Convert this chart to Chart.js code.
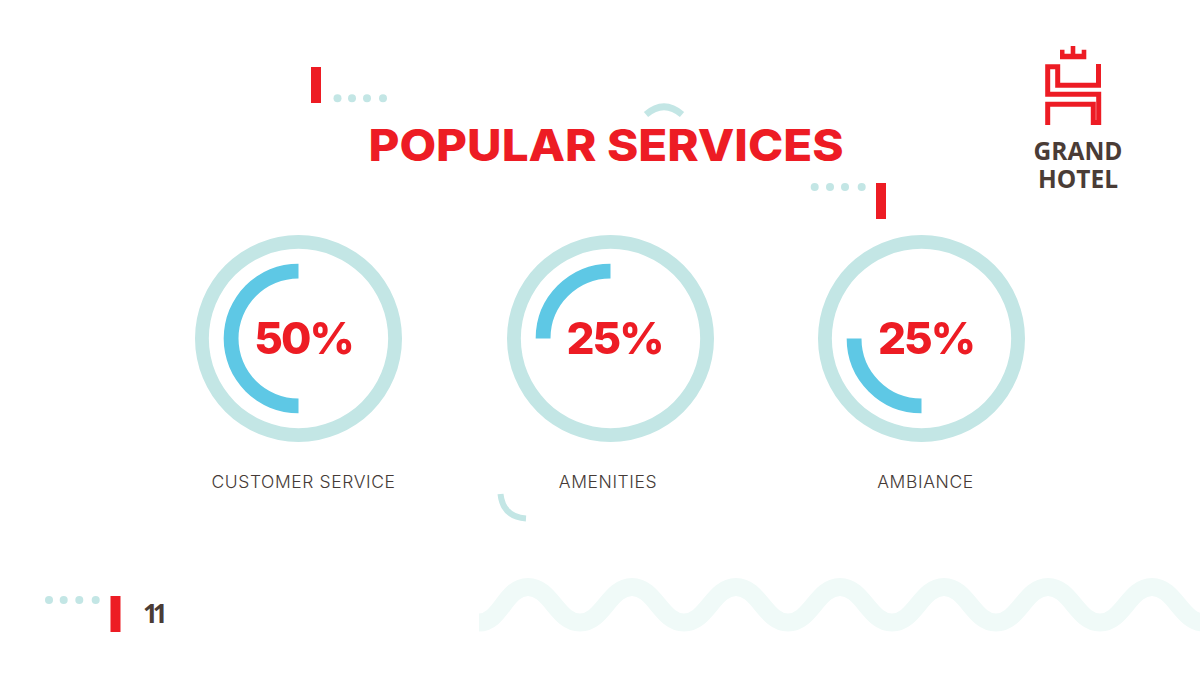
<!DOCTYPE html>
<html>
<head>
<meta charset="utf-8">
<title>Popular Services</title>
<script src="https://cdn.jsdelivr.net/npm/chart.js@4"></script>
<style>
    html, body { margin: 0; padding: 0; background: #fff; }
    #slide { position: relative; width: 1200px; height: 675px; overflow: hidden; background: #fff; font-family: Inter, sans-serif; }
    #decor { position: absolute; left: 0; top: 0; }
    .abs { position: absolute; white-space: nowrap; }
    .ring { position: absolute; width: 207px; height: 207px; }
    #title { left: 306px; width: 600px; top: 116px; line-height: 58px; text-align: center; font-size: 44px; font-weight: 800; color: #ed1c24; transform: scaleX(1.08); }
    .percent { width: 160px; text-align: center; font-size: 44px; line-height: 50px; font-weight: 800; letter-spacing: -2px; color: #ed1c24; }
    .name { width: 260px; text-align: center; font-size: 17.5px; line-height: 22px; font-weight: 300; letter-spacing: 0.6px; color: #453a36; }
    #logoText { left: 1008px; top: 137px; width: 140px; text-align: center; font-family: "Open Sans", sans-serif; font-weight: 700; font-size: 24.5px; line-height: 28px; color: #4a3c36; white-space: normal; }
    #page { left: 143px; top: 596px; font-family: "Open Sans", sans-serif; font-weight: 700; font-size: 26px; line-height: 34px; letter-spacing: -5px; color: #4a3c36; }
</style>
</head>
<body>
<div id="slide">
    <svg id="decor" width="1200" height="675">
        <!-- wave at the bottom -->
        <path d="M479 622.5 C501 622.5 505 587 528 587 S557 622.5 580 622.5 S609 587 632 587 S661 622.5 684 622.5 S713 587 736 587 S765 622.5 788 622.5 S817 587 840 587 S869 622.5 892 622.5 S921 587 944 587 S973 622.5 996 622.5 S1025 587 1048 587 S1077 622.5 1100 622.5 S1129 587 1152 587 S1181 622.5 1204 622.5" fill="none" stroke="#f0faf8" stroke-width="18"/>
        <!-- red bars -->
        <rect x="311" y="67" width="10" height="36" fill="#ed1c24"/>
        <rect x="876" y="183" width="10" height="36" fill="#ed1c24"/>
        <rect x="110.5" y="596" width="10" height="36" fill="#ed1c24"/>
        <!-- dots -->
        <g fill="#c3e6e5">
            <circle cx="337.5" cy="98.3" r="4"/><circle cx="352" cy="98.3" r="4"/><circle cx="367" cy="98.3" r="4"/><circle cx="383" cy="98.3" r="4"/>
            <circle cx="814.7" cy="187" r="4"/><circle cx="830" cy="187" r="4"/><circle cx="845" cy="187" r="4"/><circle cx="861.7" cy="187" r="4"/>
            <circle cx="49" cy="600" r="4"/><circle cx="63.7" cy="600" r="4"/><circle cx="79.3" cy="600" r="4"/><circle cx="95.7" cy="600" r="4"/>
        </g>
        <!-- small arcs -->
        <path d="M646 114.5 Q664 99 682 114.5" fill="none" stroke="#c3e6e5" stroke-width="6.5"/>
        <path d="M500.5 494 Q503 517 526 518.5" fill="none" stroke="#c3e6e5" stroke-width="6"/>
        <!-- logo -->
        <path d="M1060 59.3 V49.7 H1064.5 V53.7 H1070.7 V46 H1075.3 V53.7 H1081.7 V49.7 H1086.3 V59.3 Z" fill="#ed1c24"/>
        <path d="M1098.5 64 V85.2 H1057.7 V66.7 H1047.7 V94.3 H1098.7 V122.5 H1093.3 V104.3 H1047.7 V125" fill="none" stroke="#ed1c24" stroke-width="5"/>
    </svg>

    <div id="title" class="abs">POPULAR SERVICES</div>
    <div id="logoText" class="abs">GRAND<br>HOTEL</div>
    <div id="page" class="abs">11</div>
</div>

<script>
// Chart data
const serviceNames = ['CUSTOMER SERVICE', 'AMENITIES', 'AMBIANCE'];
const servicePercents = [50, 25, 25];
const trackValues = [100];

// Where each ring sits on the slide and where its arc starts (degrees from 12 o'clock)
const ringCentersX = [298.5, 610, 921.5];
const ringCenterY = 338;
const arcStarts = [180, 270, 180];
const percentCentersX = [303.5, 614.5, 926];
const nameCentersX = [303.5, 608, 925.5];

Chart.defaults.animation = false;

const slide = document.getElementById('slide');

serviceNames.forEach(function(name, i) {
    const holder = document.createElement('div');
    holder.className = 'ring';
    holder.style.left = (ringCentersX[i] - 103.5) + 'px';
    holder.style.top = (ringCenterY - 103.5) + 'px';
    const canvas = document.createElement('canvas');
    holder.appendChild(canvas);
    slide.appendChild(holder);

    new Chart(canvas, {
        type: 'doughnut',
        data: {
            labels: [name, ''],
            datasets: [
                // outer pale ring
                { data: trackValues, backgroundColor: ['#c3e6e5'], borderWidth: 0, weight: 14 },
                // empty gap between the rings
                { data: trackValues, backgroundColor: ['rgba(0,0,0,0)'], borderWidth: 0, weight: 15 },
                // the value arc
                {
                    data: [servicePercents[i], 100 - servicePercents[i]],
                    backgroundColor: ['#5ec8e5', 'rgba(0,0,0,0)'],
                    borderWidth: 0,
                    weight: 15,
                    rotation: arcStarts[i]
                }
            ]
        },
        options: {
            responsive: true,
            maintainAspectRatio: false,
            cutout: 60,
            plugins: {
                legend: { display: false },
                tooltip: { enabled: false }
            }
        }
    });

    const percent = document.createElement('div');
    percent.className = 'abs percent';
    percent.textContent = servicePercents[i] + '%';
    percent.style.left = (percentCentersX[i] - 80) + 'px';
    percent.style.top = (ringCenterY - 25) + 'px';
    slide.appendChild(percent);

    const label = document.createElement('div');
    label.className = 'abs name';
    label.textContent = name;
    label.style.left = (nameCentersX[i] - 130) + 'px';
    label.style.top = '471px';
    slide.appendChild(label);
});
</script>
</body>
</html>
